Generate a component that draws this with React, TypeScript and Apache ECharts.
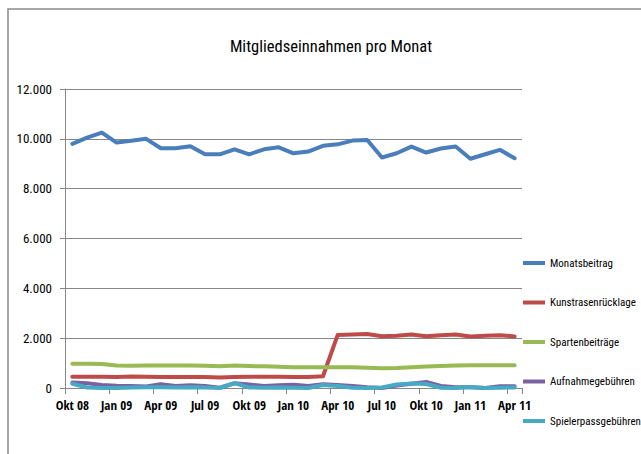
import React, { useEffect, useRef } from "react";
import * as echarts from "echarts";

const categories = [
  "Okt 08", "Nov 08", "Dez 08",
  "Jan 09", "Feb 09", "Mrz 09", "Apr 09", "Mai 09", "Jun 09", "Jul 09", "Aug 09", "Sep 09", "Okt 09", "Nov 09", "Dez 09",
  "Jan 10", "Feb 10", "Mrz 10", "Apr 10", "Mai 10", "Jun 10", "Jul 10", "Aug 10", "Sep 10", "Okt 10", "Nov 10", "Dez 10",
  "Jan 11", "Feb 11", "Mrz 11", "Apr 11",
];

const monatsbeitrag = [9800, 10050, 10250, 9850, 9920, 10000, 9620, 9620, 9700, 9380, 9380, 9580, 9380, 9580, 9660, 9420, 9490, 9720, 9780, 9930, 9950, 9250, 9420, 9690, 9450, 9610, 9690, 9200, 9380, 9560, 9220];
const kunstrasen = [450, 450, 450, 440, 460, 450, 440, 440, 440, 440, 420, 440, 450, 450, 450, 440, 440, 470, 2130, 2150, 2170, 2080, 2100, 2150, 2080, 2120, 2150, 2070, 2100, 2120, 2070];
const sparten = [970, 970, 960, 900, 890, 900, 900, 900, 900, 890, 870, 900, 880, 870, 850, 830, 830, 830, 830, 830, 810, 790, 800, 830, 860, 880, 900, 910, 910, 910, 910];
const aufnahme = [220, 190, 120, 90, 80, 60, 150, 80, 110, 80, 10, 190, 140, 80, 110, 130, 80, 150, 120, 80, 30, 0, 100, 170, 240, 80, 30, 30, 0, 70, 70];
const spielerpass = [170, 20, 0, 0, 20, 30, 30, 20, 30, 20, 0, 195, 20, 10, 20, 10, 0, 120, 80, 10, 0, 20, 140, 180, 160, 10, 0, 40, 0, 10, 20];

const seriesNames = ["Monatsbeitrag", "Kunstrasenrücklage", "Spartenbeiträge", "Aufnahmegebühren", "Spielerpassgebühren"];
const seriesColors = ["#4A7EBB", "#BE4B48", "#98B954", "#7D60A0", "#46AAC5"];
const seriesData = [monatsbeitrag, kunstrasen, sparten, aufnahme, spielerpass];

const titleText = "Mitgliedseinnahmen pro Monat";
const FONT = "'Roboto Condensed', 'Liberation Sans Narrow', sans-serif";
const FONT_BOLD = "'Open Sans Condensed', 'Roboto Condensed', sans-serif";

function fmt(v: number): string {
  const s = String(Math.round(v));
  return s.replace(/\B(?=(\d{3})+(?!\d))/g, ".");
}

export default function App() {
  const ref = useRef<HTMLDivElement>(null);
  useEffect(() => {
    if (!ref.current) return;
    const chart = echarts.init(ref.current, undefined, { renderer: "svg" });
    chart.setOption({
      animation: false,
      backgroundColor: "#ffffff",
      graphic: [
        {
          type: "rect",
          shape: { x: 8, y: 9, width: 700, height: 500 },
          style: { fill: "none", stroke: "#8a8a8a", lineWidth: 1.5 },
          silent: true,
        },
        {
          type: "text",
          x: 331,
          y: 46,
          style: {
            text: titleText,
            fontFamily: FONT,
            fontSize: 16.5,
            fill: "#000000",
            textAlign: "center",
            textVerticalAlign: "middle",
          },
        },
      ],
      grid: { left: 65, right: 119, top: 89, bottom: 66, containLabel: false },
      legend: {
        orient: "vertical",
        left: 518,
        top: 250,
        icon: "rect",
        itemWidth: 22,
        itemHeight: 4,
        itemGap: 23.5,
        data: seriesNames,
        textStyle: { fontFamily: FONT, fontSize: 11, color: "#000000", lineHeight: 16 },
      },
      xAxis: {
        type: "category",
        data: categories,
        boundaryGap: true,
        axisLine: { lineStyle: { color: "#868686", width: 1 } },
        axisTick: { show: true, interval: 2, length: 6, lineStyle: { color: "#868686" } },
        axisLabel: {
          interval: 2,
          margin: 10,
          fontFamily: FONT_BOLD,
          fontSize: 13,
          fontWeight: "bold",
          color: "#000000",
        },
      },
      yAxis: {
        type: "value",
        min: 0,
        max: 12000,
        interval: 2000,
        axisLine: { show: true, lineStyle: { color: "#868686", width: 1 } },
        axisTick: { show: true, length: 5, lineStyle: { color: "#868686" } },
        splitLine: { show: true, lineStyle: { color: "#868686", width: 1 } },
        axisLabel: {
          margin: 13,
          fontFamily: FONT,
          fontSize: 13,
          color: "#000000",
          formatter: (v: number) => fmt(v),
        },
      },
      series: seriesNames.map((name, i) => ({
        name,
        type: "line",
        data: seriesData[i],
        symbol: "none",
        showSymbol: false,
        color: seriesColors[i],
        lineStyle: { width: 4, color: seriesColors[i], cap: "round", join: "round" },
        itemStyle: { color: seriesColors[i] },
      })),
    });
    return () => chart.dispose();
  }, []);
  return (
    <div
      ref={ref}
      style={{ position: "absolute", left: 0, top: 0, width: 641, height: 454 }}
    />
  );
}
